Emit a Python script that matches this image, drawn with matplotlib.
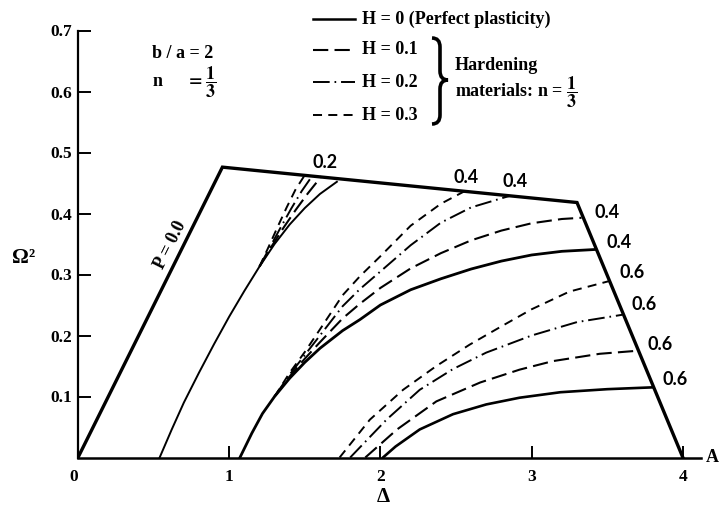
import matplotlib
matplotlib.use("Agg")
import matplotlib.pyplot as plt
from matplotlib.path import Path
from matplotlib.patches import PathPatch
from matplotlib.lines import Line2D

plt.rcParams["font.family"] = ["Liberation Serif", "DejaVu Serif"]
plt.rcParams["font.weight"] = "bold"
plt.rcParams["mathtext.fontset"] = "stix"
plt.rcParams["mathtext.default"] = "bf"
plt.rcParams["lines.scale_dashes"] = False

W, H = 719, 516

# outer boundary (P = 0.0 line, top edge, right edge)
bound_x = [0.0, 0.955, 3.30, 4.0]
bound_y = [0.0, 0.476, 0.418, 0.0]

# P = 0.2 family
p2_h0_x = [0.54, 0.62, 0.70, 0.80, 0.90, 1.00, 1.10, 1.20, 1.30, 1.40, 1.50, 1.60, 1.712]
p2_h0_y = [0.0, 0.046, 0.090, 0.139, 0.186, 0.231, 0.273, 0.313, 0.350, 0.382, 0.409, 0.432, 0.452]
p2_h1_x = [1.20, 1.28, 1.36, 1.44, 1.52, 1.61]
p2_h1_y = [0.313, 0.346, 0.377, 0.406, 0.433, 0.461]
p2_h2_x = [1.20, 1.27, 1.34, 1.41, 1.48, 1.55]
p2_h2_y = [0.313, 0.345, 0.377, 0.408, 0.437, 0.462]
p2_h3_x = [1.20, 1.26, 1.32, 1.38, 1.44, 1.50]
p2_h3_y = [0.313, 0.345, 0.378, 0.410, 0.440, 0.463]

# P = 0.4 family
p4_h0_x = [1.071, 1.15, 1.22, 1.30, 1.40, 1.50, 1.60, 1.75, 1.864, 2.0, 2.2, 2.4, 2.6, 2.8, 3.0, 3.2, 3.42]
p4_h0_y = [0.0, 0.040, 0.072, 0.100, 0.130, 0.156, 0.179, 0.208, 0.226, 0.250, 0.275, 0.293, 0.309, 0.322, 0.332, 0.338, 0.341]
p4_h1_x = [1.30, 1.40, 1.50, 1.60, 1.75, 1.864, 2.0, 2.2, 2.4, 2.6, 2.8, 3.0, 3.2, 3.33]
p4_h1_y = [0.100, 0.133, 0.162, 0.189, 0.228, 0.252, 0.278, 0.310, 0.335, 0.356, 0.372, 0.384, 0.391, 0.393]
p4_h2_x = [1.30, 1.40, 1.50, 1.60, 1.75, 1.864, 2.0, 2.2, 2.4, 2.6, 2.856]
p4_h2_y = [0.100, 0.136, 0.168, 0.200, 0.248, 0.276, 0.305, 0.348, 0.385, 0.410, 0.429]
p4_h3_x = [1.30, 1.40, 1.50, 1.60, 1.75, 1.864, 2.0, 2.2, 2.4, 2.56]
p4_h3_y = [0.100, 0.139, 0.173, 0.210, 0.266, 0.297, 0.330, 0.380, 0.416, 0.437]

# P = 0.6 family
p6_h0_x = [2.017, 2.10, 2.26, 2.48, 2.70, 2.92, 3.19, 3.50, 3.80]
p6_h0_y = [0.0, 0.018, 0.046, 0.071, 0.087, 0.098, 0.107, 0.112, 0.115]
p6_h1_x = [1.90, 2.11, 2.37, 2.66, 2.92, 3.14, 3.45, 3.70]
p6_h1_y = [0.0, 0.046, 0.092, 0.123, 0.144, 0.158, 0.170, 0.175]
p6_h2_x = [1.80, 2.04, 2.26, 2.48, 2.70, 3.00, 3.30, 3.60]
p6_h2_y = [0.0, 0.062, 0.111, 0.145, 0.172, 0.200, 0.222, 0.234]
p6_h3_x = [1.73, 1.93, 2.15, 2.37, 2.59, 2.80, 3.00, 3.25, 3.51]
p6_h3_y = [0.0, 0.062, 0.111, 0.150, 0.185, 0.215, 0.243, 0.272, 0.289]

# curve end labels: text, x, y
end_labels = [("0.2", 1.633, 0.483), ("0.4", 2.565, 0.459), ("0.4", 2.889, 0.452),
              ("0.4", 3.498, 0.402), ("0.4", 3.577, 0.352), ("0.6", 3.663, 0.303),
              ("0.6", 3.742, 0.251), ("0.6", 3.848, 0.185), ("0.6", 3.947, 0.128)]

xticks = [0, 1, 2, 3, 4]
yticks = [0.1, 0.2, 0.3, 0.4, 0.5, 0.6, 0.7]

legend_labels = ["H = 0 (Perfect plasticity)", "H = 0.1", "H = 0.2", "H = 0.3"]

styles = {
    0: dict(ls="-", lw=1.8),
    1: dict(ls=(0, (11, 4.5)), lw=1.5),
    2: dict(ls=(0, (12, 3.5, 1.2, 3.5)), lw=1.4),
    3: dict(ls=(0, (6.5, 4.5)), lw=1.4),
}

fig = plt.figure(figsize=(W / 100, H / 100), dpi=100)
ax = fig.add_axes([78 / W, (H - 457.5) / H, 623 / W, 427 / H])
ax.set_xlim(0, 4.12)
ax.set_ylim(0, 0.7)

ax.plot(bound_x, bound_y, color="black", lw=2.4, solid_joinstyle="miter")

ax.plot(p2_h0_x, p2_h0_y, color="black", lw=1.4)
ax.plot(p4_h0_x, p4_h0_y, color="black", lw=2.0)
ax.plot(p6_h0_x, p6_h0_y, color="black", lw=1.9)
for k, (xs, ys) in enumerate([(p2_h1_x, p2_h1_y), (p2_h2_x, p2_h2_y), (p2_h3_x, p2_h3_y)], 1):
    ax.plot(xs, ys, color="black", **styles[k])
for k, (xs, ys) in enumerate([(p4_h1_x, p4_h1_y), (p4_h2_x, p4_h2_y), (p4_h3_x, p4_h3_y)], 1):
    ax.plot(xs, ys, color="black", **styles[k])
for k, (xs, ys) in enumerate([(p6_h1_x, p6_h1_y), (p6_h2_x, p6_h2_y), (p6_h3_x, p6_h3_y)], 1):
    ax.plot(xs, ys, color="black", **styles[k])

for txt, x, y in end_labels:
    ax.text(x, y, txt, ha="center", va="center", fontsize=13, family="Lato", fontweight="bold")

# P = 0.0 label along the left edge
ax.text(0.608, 0.348, "P = 0.0", rotation=63.5, ha="center", va="center", fontsize=13,
        rotation_mode="anchor")

# axes styling
for s in ["top", "right"]:
    ax.spines[s].set_visible(False)
ax.spines["left"].set_linewidth(1.6)
ax.spines["bottom"].set_linewidth(1.8)
ax.set_xticks(xticks)
ax.set_xticklabels([str(t) for t in xticks])
ax.set_yticks(yticks)
ax.set_yticklabels([f"{t:.1f}" for t in yticks])
ax.tick_params(direction="in", length=9, width=1.4, labelsize=12.5)
ax.tick_params(axis="x", pad=8)
ax.tick_params(axis="y", pad=4)
ax.get_xticklabels()[0].set_horizontalalignment("right")


def fpx(px, py):
    return px / W, 1 - py / H


fig.text(*fpx(24, 258), "Ω²", fontsize=15, ha="center", va="center")
fig.text(*fpx(383, 497), "Δ", fontsize=15, ha="center", va="center")
fig.text(*fpx(712, 457), "A", fontsize=13, ha="center", va="center")

fig.text(*fpx(152, 54), "b / a = 2", fontsize=13, ha="left", va="center")
fig.text(*fpx(152, 82), r"n$\quad\;\;\, = \dfrac{1}{3}$", fontsize=13, ha="left", va="center")

# legend drawn by hand
rows = [19, 50, 82, 115]
for k, (row, lab) in enumerate(zip(rows, legend_labels)):
    x0, y0 = fpx(313, row)
    x1, _ = fpx(355, row)
    fig.add_artist(Line2D([x0, x1], [y0, y0], color="black", **styles[k]))
    fig.text(*fpx(362, row), lab, fontsize=13, ha="left", va="center")

fig.text(*fpx(455, 66), "Hardening", fontsize=13, ha="left", va="center")
fig.text(*fpx(455, 92), r"materials: n = $\dfrac{1}{3}$", fontsize=13, ha="left", va="center")

# curly brace joining H = 0.1..0.3
bx0, bxm, bx1 = 432, 440, 448
btop, bmid, bbot = 38, 80, 124
pts = [(bx0, btop), (bxm, btop), (bxm, btop + 9),
       (bxm, bmid - 9), (bxm, bmid), (bx1, bmid),
       (bxm, bmid), (bxm, bmid + 9),
       (bxm, bbot - 9), (bxm, bbot), (bx0, bbot)]
codes = [Path.MOVETO, Path.CURVE3, Path.CURVE3,
         Path.LINETO, Path.CURVE3, Path.CURVE3,
         Path.CURVE3, Path.CURVE3,
         Path.LINETO, Path.CURVE3, Path.CURVE3]
brace = Path([fpx(*p) for p in pts], codes)
fig.add_artist(PathPatch(brace, facecolor="none", edgecolor="black", lw=2.6,
                         transform=fig.transFigure))

fig.savefig("out.png", dpi=100)
